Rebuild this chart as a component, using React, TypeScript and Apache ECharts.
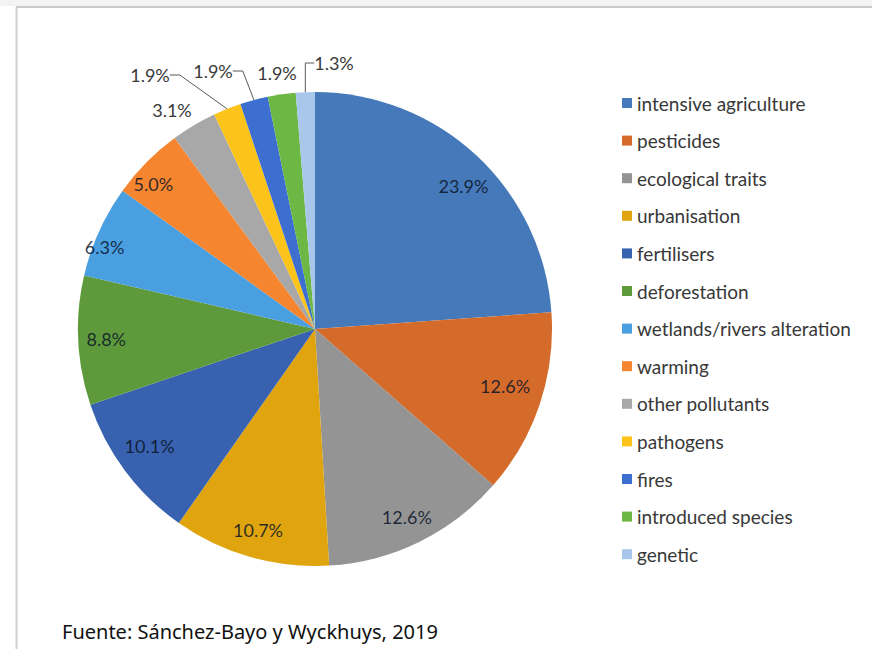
import React, { useEffect, useRef } from "react";
import * as echarts from "echarts";

const categories = [
  "intensive agriculture",
  "pesticides",
  "ecological traits",
  "urbanisation",
  "fertilisers",
  "deforestation",
  "wetlands/rivers alteration",
  "warming",
  "other pollutants",
  "pathogens",
  "fires",
  "introduced species",
  "genetic",
];
const values = [23.9, 12.6, 12.6, 10.7, 10.1, 8.8, 6.3, 5.0, 3.1, 1.9, 1.9, 1.9, 1.3];
const colors = [
  "#4679b9",
  "#d56b2b",
  "#949494",
  "#e0a50e",
  "#3862af",
  "#5e9a3c",
  "#4a9fe0",
  "#f5862f",
  "#a8a8a8",
  "#fcc41b",
  "#3d6fd0",
  "#6db744",
  "#a8c7ea",
];
const insideCount = 8;
// label centres for the small slices (outside labels), style only
const outsideLabelPos: Record<number, [number, number]> = {
  8: [172, 110],
  9: [150, 75],
  10: [213, 71],
  11: [277, 73],
  12: [334, 63],
};
// small nudges for inside labels (style only)
const insideNudge: Record<number, [number, number]> = {
  0: [6, 10],
  1: [-8, -10],
  6: [-20, 4],
  7: [-13, 2],
  4: [2, -8],
};
const noLine = new Set([8, 11]);
const footer = "Fuente: Sánchez-Bayo y Wyckhuys, 2019";

const CENTER: [number, number] = [315, 329];
const R = 237;

export default function App() {
  const ref = useRef<HTMLDivElement>(null);
  useEffect(() => {
    const chart = echarts.init(ref.current!, undefined, { renderer: "svg" });
    const fmt = (p: any) => p.value.toFixed(1) + "%";
    chart.setOption({
      animation: false,
      backgroundColor: "#ffffff",
      legend: {
        orient: "vertical",
        left: 617,
        top: 88,
        itemWidth: 10,
        itemHeight: 10,
        itemGap: 17.6,
        icon: "rect",
        textStyle: { fontFamily: "Lato", fontSize: 19, color: "#383838", lineHeight: 20 },
        data: categories.map((n, i) => ({ name: n, itemStyle: { color: colors[i] } })),
      },
      graphic: [
        { type: "rect", shape: { x: 0, y: 0, width: 872, height: 6 }, style: { fill: "#f3f3f3" }, silent: true },
        { type: "line", shape: { x1: 16, y1: 7, x2: 872, y2: 7 }, style: { stroke: "#c9c9c9", lineWidth: 2 }, silent: true },
        { type: "line", shape: { x1: 16.5, y1: 7, x2: 16.5, y2: 649 }, style: { stroke: "#cfcfcf", lineWidth: 2 }, silent: true },
        {
          type: "text",
          left: 62,
          top: 621,
          style: { text: footer, fontFamily: "Noto Sans", fontSize: 20, fill: "#111111" },
          silent: true,
        },
      ],
      series: [
        {
          type: "pie",
          name: "main",
          center: CENTER,
          radius: [0, R],
          startAngle: 90,
          clockwise: true,
          avoidLabelOverlap: false,
          data: categories.map((n, i) => ({
            name: n,
            value: values[i],
            itemStyle: { color: colors[i] },
            label: { show: i >= insideCount },
            labelLine: { show: i >= insideCount && !noLine.has(i) },
          })),
          label: {
            position: "outside",
            formatter: fmt,
            fontFamily: "Lato",
            fontSize: 18,
            color: "#3a3a3a",
          },
          labelLine: { length: 14, length2: 10, lineStyle: { color: "#595959", width: 1 } },
          labelLayout: (p: any) => {
            const pos = outsideLabelPos[p.dataIndex];
            if (!pos) return {};
            return { x: pos[0], y: pos[1], align: "center", verticalAlign: "middle" };
          },
        },
        {
          type: "pie",
          name: "labels",
          center: CENTER,
          radius: [176, 236],
          startAngle: 90,
          clockwise: true,
          silent: true,
          legendHoverLink: false,
          avoidLabelOverlap: false,
          itemStyle: { color: "rgba(0,0,0,0)" },
          data: categories.map((n, i) => ({
            name: n,
            value: values[i],
            label: { show: i < insideCount },
          })),
          label: {
            position: "inside",
            formatter: fmt,
            fontFamily: "Lato",
            fontSize: 18,
            color: "rgba(10,20,40,0.85)",
          },
          labelLine: { show: false },
          labelLayout: (p: any) => {
            const n = insideNudge[p.dataIndex];
            if (!n) return {};
            const r = p.labelRect;
            return {
              x: r.x + r.width / 2 + n[0],
              y: r.y + r.height / 2 + n[1],
              align: "center",
              verticalAlign: "middle",
            };
          },
        },
      ],
    });
    return () => chart.dispose();
  }, []);
  return (
    <div
      ref={ref}
      style={{ position: "fixed", left: 0, top: 0, width: 872, height: 649 }}
    />
  );
}
